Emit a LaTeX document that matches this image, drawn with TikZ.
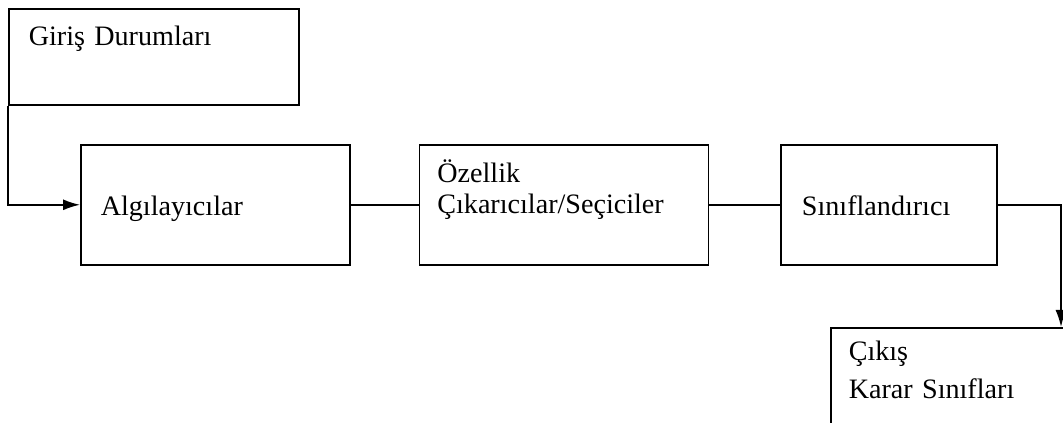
\documentclass[tikz,border=0pt]{standalone}
\usepackage{fontspec}
\setmainfont{Liberation Serif}
\usetikzlibrary{positioning,arrows.meta}

\begin{document}
\begin{tikzpicture}[
    font=\fontsize{16}{17.6}\selectfont,
    box/.style={rectangle, draw, line width=0.9pt, inner sep=0pt, align=left},
    link/.style={line width=0.9pt},
    arr/.style={line width=0.9pt, -{Latex[length=3.4mm, width=2.2mm]}}
]
\clip (0,0) rectangle (21.26,-8.46);

% Input
\node[box, anchor=north west, inner xsep=0.4cm, text width=5.0cm, text height=0.74cm, text depth=1.18cm] (giris) at (0.16,-0.16) {Giriş Durumları};

% Chain
\node[box, anchor=north west, inner xsep=0.4cm, text width=4.58cm, text height=1.42cm, text depth=0.98cm] (algi) at (1.6,-2.88) {Algılayıcılar};
\node[box, right=1.36cm of algi, inner xsep=0.36cm, text width=5.06cm, text height=0.76cm, text depth=1.64cm] (ozellik) {Özellik\\Çıkarıcılar/Seçiciler};
\node[box, right=1.42cm of ozellik, inner xsep=0.42cm, text width=3.48cm, text height=1.42cm, text depth=0.98cm] (sinif) {Sınıflandırıcı};

% Output
\node[box, anchor=north west, inner xsep=0.36cm, text width=4.18cm, text height=0.66cm, text depth=1.6cm] (cikis) at (16.6,-6.54) {Çıkış\\[4pt]Karar Sınıfları};

% Connectors
\coordinate (turn) at (21.22,0);
\draw[arr] (giris.south west) |- (algi.west);
\draw[link] (algi) -- (ozellik);
\draw[link] (ozellik) -- (sinif);
\draw[arr] (sinif.east) -| (turn |- cikis.north);

\end{tikzpicture}
\end{document}
